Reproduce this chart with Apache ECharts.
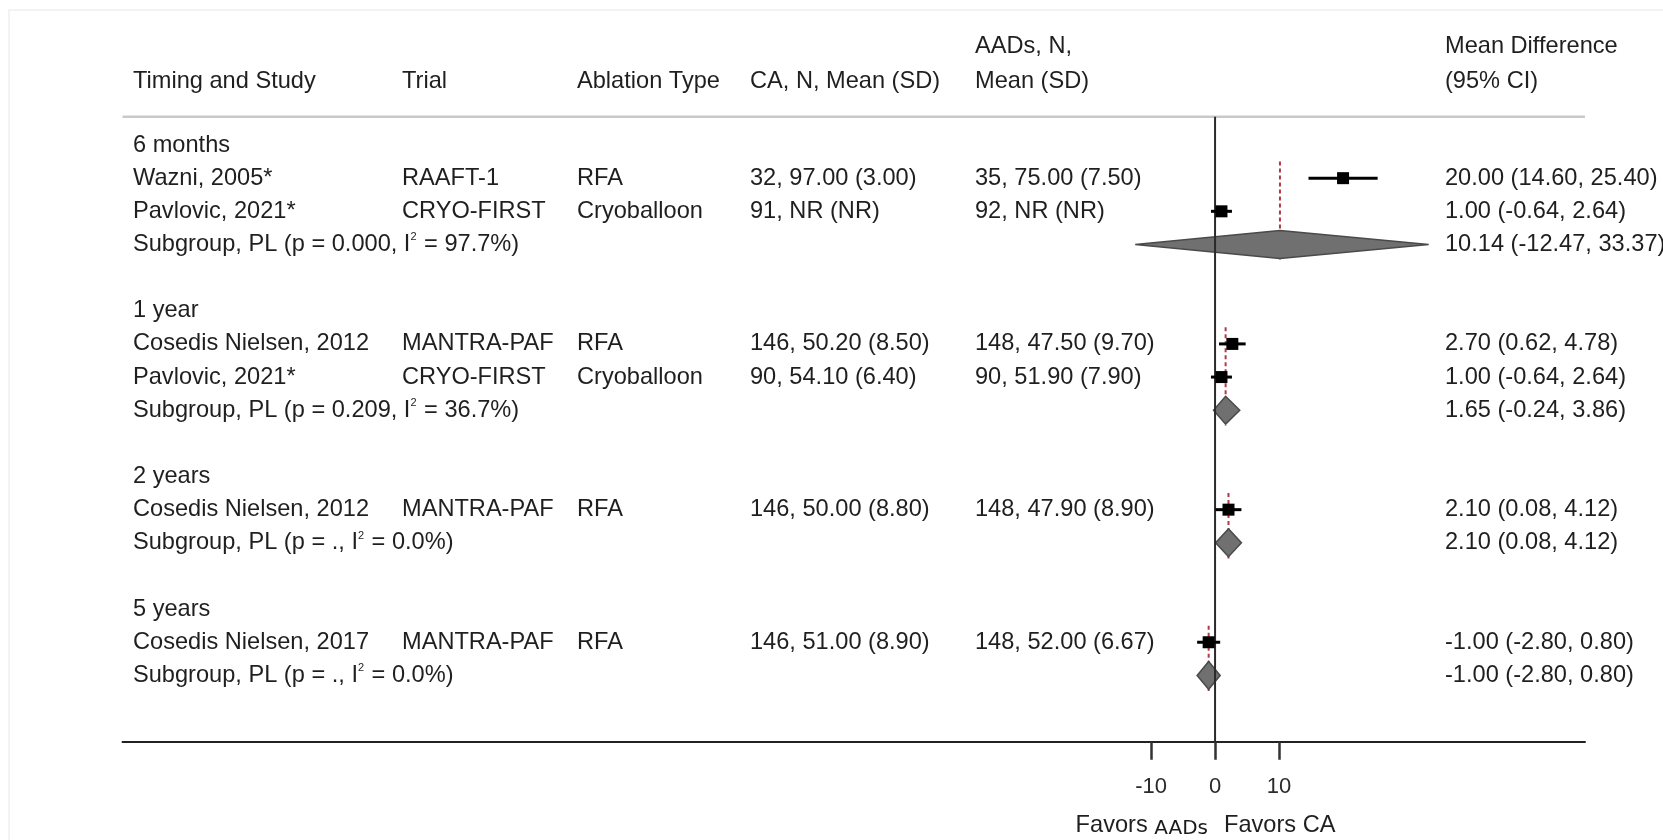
<!DOCTYPE html>
<html>
<head>
<meta charset="utf-8">
<title>Mean Difference by Timing and Study</title>
<script src="https://cdn.jsdelivr.net/npm/echarts@6/dist/echarts.min.js"></script>
<style>
  html, body { margin: 0; padding: 0; background: #ffffff; }
  #chart { width: 1663px; height: 840px; }
</style>
</head>
<body>
<div id="chart"></div>
<script>
// ---- Data ---------------------------------------------------------------
const groupNames = ['6 months', '1 year', '2 years', '5 years'];

// one entry per study
const studyGroup    = [0, 0, 1, 1, 2, 3];
const studyNames    = ['Wazni, 2005*', 'Pavlovic, 2021*', 'Cosedis Nielsen, 2012', 'Pavlovic, 2021*', 'Cosedis Nielsen, 2012', 'Cosedis Nielsen, 2017'];
const studyTrials   = ['RAAFT-1', 'CRYO-FIRST', 'MANTRA-PAF', 'CRYO-FIRST', 'MANTRA-PAF', 'MANTRA-PAF'];
const studyAblation = ['RFA', 'Cryoballoon', 'RFA', 'Cryoballoon', 'RFA', 'RFA'];
const caSummary     = ['32, 97.00 (3.00)', '91, NR (NR)', '146, 50.20 (8.50)', '90, 54.10 (6.40)', '146, 50.00 (8.80)', '146, 51.00 (8.90)'];
const aadSummary    = ['35, 75.00 (7.50)', '92, NR (NR)', '148, 47.50 (9.70)', '90, 51.90 (7.90)', '148, 47.90 (8.90)', '148, 52.00 (6.67)'];
const studyMD       = [20.00, 1.00, 2.70, 1.00, 2.10, -1.00];
const studyLower    = [14.60, -0.64, 0.62, -0.64, 0.08, -2.80];
const studyUpper    = [25.40, 2.64, 4.78, 2.64, 4.12, 0.80];

// one entry per timing subgroup (profile-likelihood pooled estimate)
const pooledMD    = [10.14, 1.65, 2.10, -1.00];
const pooledLower = [-12.47, -0.24, 0.08, -2.80];
const pooledUpper = [33.37, 3.86, 4.12, 0.80];
const pooledP     = ['0.000', '0.209', '.', '.'];
const pooledI2    = ['97.7', '36.7', '0.0', '0.0'];

// column headings (two text lines each)
const headerTop    = ['', '', '', '', 'AADs, N,', 'Mean Difference'];
const headerBottom = ['Timing and Study', 'Trial', 'Ablation Type', 'CA, N, Mean (SD)', 'Mean (SD)', '(95% CI)'];

const tickValues = [-10, 0, 10];
const favorsLeft = ['Favors', 'AADs'];
const favorsRight = 'Favors CA';

// ---- Layout & style ------------------------------------------------------
const FONT = "'Liberation Sans', Arial, Helvetica, sans-serif";
const FONT_SIZE = 23.6;
const TEXT_COLOR = '#1f1f1f';
const COL_X = [133, 402, 577, 750, 975, 1445];   // left edge of each table column (px)
const HEADER_ROWS = [-2.97, -1.93];               // y (row units) of the two heading lines
const RULE_ROW = -0.85;                           // thin rule under the headings
const AXIS_ROW = 18;                              // bottom axis line
const FOOTER_ROW = 20.54;
const BOX = 12;                                   // study marker size (px)
const DIAMOND_HALF = 0.42;                        // diamond half-height in rows

// ---- Build table rows from the data arrays ------------------------------
const rows = [];
const studyMarks = [];
const pooledMarks = [];
const refLines = [];
let r = 0;
groupNames.forEach((g, gi) => {
  const headingRow = r;
  rows.push({ row: r, cells: [g], ci: null });
  r++;
  studyGroup.forEach((sg, si) => {
    if (sg !== gi) return;
    rows.push({
      row: r,
      cells: [studyNames[si], studyTrials[si], studyAblation[si], caSummary[si], aadSummary[si]],
      ci: [studyMD[si], studyLower[si], studyUpper[si]]
    });
    studyMarks.push([studyMD[si], r, studyLower[si], studyUpper[si]]);
    r++;
  });
  rows.push({
    row: r,
    cells: ['Subgroup, PL (p = ' + pooledP[gi] + ', I{sup|2} = ' + pooledI2[gi] + '%)'],
    ci: [pooledMD[gi], pooledLower[gi], pooledUpper[gi]]
  });
  pooledMarks.push([pooledMD[gi], r, pooledLower[gi], pooledUpper[gi]]);
  refLines.push([pooledMD[gi], headingRow + 0.5, r + DIAMOND_HALF + 0.05]);
  r++;
  r++; // blank spacer row
});

const fmt = v => v.toFixed(2);
const ciText = ci => fmt(ci[0]) + ' (' + fmt(ci[1]) + ', ' + fmt(ci[2]) + ')';

const RICH = {
  sup: { fontSize: 11, fontFamily: FONT, fill: TEXT_COLOR, padding: [0, 1, 14, 0], verticalAlign: 'bottom' }
};

function textEl(x, y, text, extra) {
  return {
    type: 'text',
    x: x,
    y: y,
    style: Object.assign({
      text: text,
      fill: TEXT_COLOR,
      fontSize: FONT_SIZE,
      fontFamily: FONT,
      align: 'left',
      verticalAlign: 'middle',
      rich: RICH
    }, extra || {})
  };
}

// ---- Chart ---------------------------------------------------------------
const chart = echarts.init(document.getElementById('chart'), null, { renderer: 'canvas' });

const option = {
  backgroundColor: '#ffffff',
  animation: false,
  graphic: [{
    type: 'rect',
    shape: { x: 9, y: 10, width: 1700, height: 900 },
    style: { fill: 'none', stroke: '#eef1ee', lineWidth: 1.5 },
    silent: true
  }],
  grid: {
    left: 122.5,
    right: 78,
    top: 29,
    bottom: 98.3,
    containLabel: false,
    outerBoundsMode: 'none'
  },
  xAxis: {
    type: 'value',
    min: -170.7,
    max: 57.8,
    position: 'bottom',
    splitLine: { show: false },
    axisLine: { show: true, onZero: false, lineStyle: { color: '#222222', width: 2 } },
    axisTick: {
      show: true,
      customValues: tickValues,
      length: 18,
      lineStyle: { color: '#333333', width: 2.5 }
    },
    axisLabel: {
      show: true,
      customValues: tickValues,
      fontSize: 22,
      fontFamily: FONT,
      color: '#2a2a2a',
      margin: 34
    }
  },
  yAxis: {
    type: 'value',
    inverse: true,
    min: -3.5,
    max: AXIS_ROW,
    show: false
  },
  series: [
    // headings and the rule beneath them
    {
      type: 'custom',
      name: 'headings',
      silent: true,
      data: [[0, 0]],
      renderItem: function (params, api) {
        const cs = params.coordSys;
        const children = [];
        headerTop.forEach((t, c) => {
          if (t) children.push(textEl(COL_X[c], api.coord([0, HEADER_ROWS[0]])[1], t));
        });
        headerBottom.forEach((t, c) => {
          if (t) children.push(textEl(COL_X[c], api.coord([0, HEADER_ROWS[1]])[1], t));
        });
        const ry = api.coord([0, RULE_ROW])[1];
        children.push({
          type: 'line',
          shape: { x1: cs.x, y1: ry, x2: cs.x + cs.width, y2: ry },
          style: { stroke: '#c9c9c9', lineWidth: 2.5 }
        });
        return { type: 'group', children: children };
      }
    },
    // table body text
    {
      type: 'custom',
      name: 'table',
      silent: true,
      data: rows.map(d => [0, d.row]),
      renderItem: function (params, api) {
        const d = rows[params.dataIndex];
        const y = api.coord([0, api.value(1)])[1];
        const children = [];
        d.cells.forEach((t, c) => { if (t) children.push(textEl(COL_X[c], y, t)); });
        if (d.ci) children.push(textEl(COL_X[5], y, ciText(d.ci)));
        return { type: 'group', children: children };
      }
    },
    // dashed lines through each subgroup estimate
    {
      type: 'custom',
      name: 'subgroup estimate',
      silent: true,
      z: 2,
      data: refLines,
      renderItem: function (params, api) {
        const p0 = api.coord([api.value(0), api.value(1)]);
        const p1 = api.coord([api.value(0), api.value(2)]);
        return {
          type: 'line',
          shape: { x1: p0[0], y1: p0[1], x2: p1[0], y2: p1[1] },
          style: { stroke: '#b23a48', lineWidth: 2, lineDash: [4, 3] }
        };
      }
    },
    // pooled diamonds
    {
      type: 'custom',
      name: 'pooled',
      silent: true,
      z: 3,
      data: pooledMarks,
      renderItem: function (params, api) {
        const c = api.coord([api.value(0), api.value(1)]);
        const xl = api.coord([api.value(2), api.value(1)])[0];
        const xr = api.coord([api.value(3), api.value(1)])[0];
        const h = api.size([0, DIAMOND_HALF])[1];
        return {
          type: 'polygon',
          shape: { points: [[xl, c[1]], [c[0], c[1] - h], [xr, c[1]], [c[0], c[1] + h]] },
          style: { fill: '#707070', stroke: '#4a4a4a', lineWidth: 1.5 }
        };
      }
    },
    // line of no effect
    {
      type: 'custom',
      name: 'no effect',
      silent: true,
      z: 4,
      data: [[0, RULE_ROW, AXIS_ROW]],
      renderItem: function (params, api) {
        const p0 = api.coord([api.value(0), api.value(1)]);
        const p1 = api.coord([api.value(0), api.value(2)]);
        return {
          type: 'line',
          shape: { x1: p0[0], y1: p0[1], x2: p1[0], y2: p1[1] },
          style: { stroke: '#2a2a2a', lineWidth: 2 }
        };
      }
    },
    // individual study estimates with 95% CI
    {
      type: 'custom',
      name: 'studies',
      silent: true,
      z: 5,
      data: studyMarks,
      renderItem: function (params, api) {
        const c = api.coord([api.value(0), api.value(1)]);
        const xl = api.coord([api.value(2), api.value(1)])[0];
        const xr = api.coord([api.value(3), api.value(1)])[0];
        return {
          type: 'group',
          children: [
            { type: 'line', shape: { x1: xl, y1: c[1], x2: xr, y2: c[1] }, style: { stroke: '#000000', lineWidth: 3 } },
            { type: 'rect', shape: { x: c[0] - BOX / 2, y: c[1] - BOX / 2, width: BOX, height: BOX }, style: { fill: '#000000' } }
          ]
        };
      }
    },
    // direction labels under the axis
    {
      type: 'custom',
      name: 'favors',
      silent: true,
      data: [[-1.1, FOOTER_ROW, 0], [1.4, FOOTER_ROW, 1]],
      renderItem: function (params, api) {
        const p = api.coord([api.value(0), api.value(1)]);
        if (api.value(2) === 0) {
          return textEl(p[0], p[1], favorsLeft[0] + ' {b|' + favorsLeft[1] + '}', {
            align: 'right',
            rich: { b: { fontFamily: "'DejaVu Sans', sans-serif", fontSize: 20, fill: '#1a1a1a', padding: [6, 0, 0, 0] } }
          });
        }
        return textEl(p[0], p[1], favorsRight);
      }
    }
  ]
};

chart.setOption(option);
</script>
</body>
</html>
